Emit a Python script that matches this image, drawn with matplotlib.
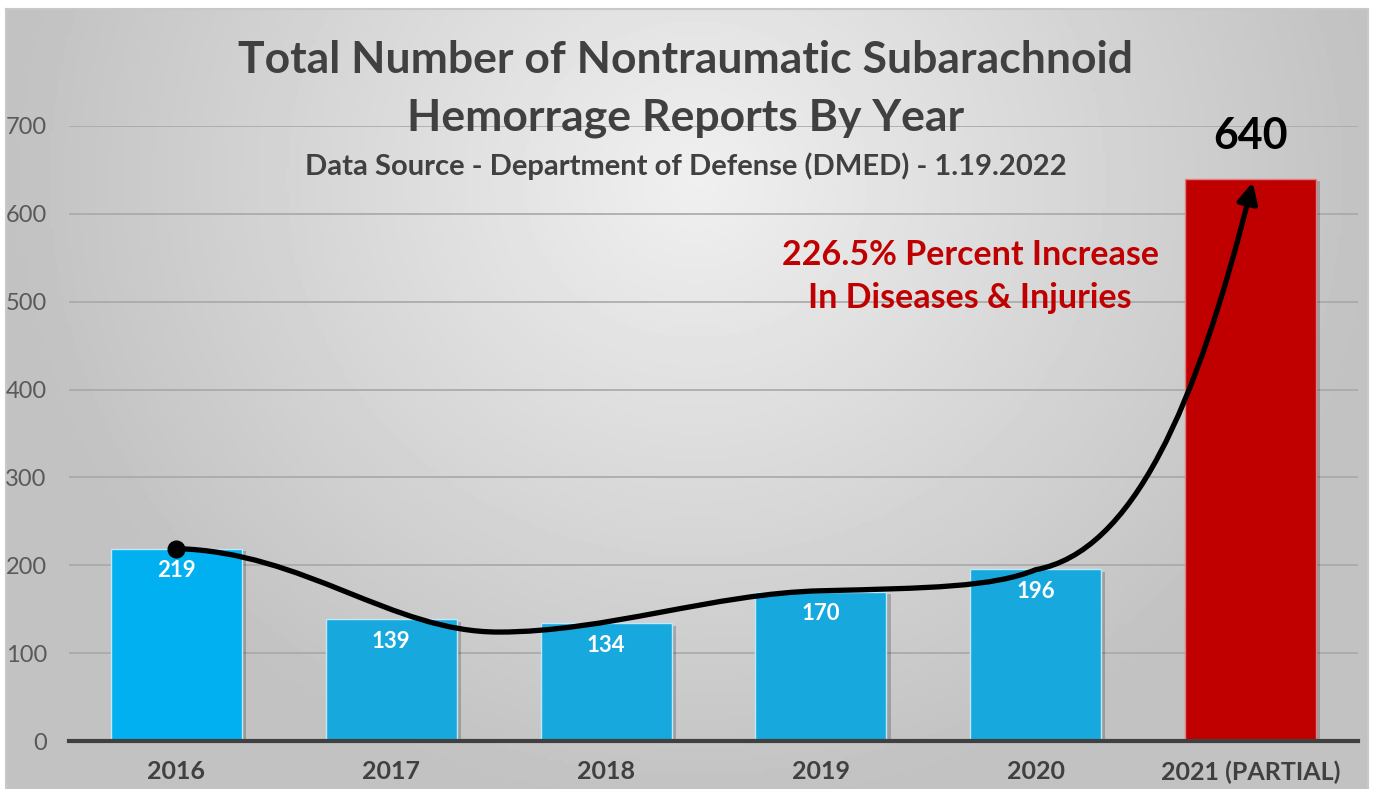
import numpy as np
import matplotlib
matplotlib.use('Agg')
import matplotlib.pyplot as plt
from matplotlib.path import Path
from matplotlib.patches import FancyArrowPatch
import matplotlib.patheffects as pe

plt.rcParams['font.family'] = ['Lato', 'DejaVu Sans']

# Dados do gráfico
anos = ['2016', '2017', '2018', '2019', '2020', '2021 (PARTIAL)']
casos = [219, 139, 134, 170, 196, 640]
cores = ['#00b0f0', '#17a9de', '#17a9de', '#17a9de', '#17a9de', '#c00000']
yticks = [0, 100, 200, 300, 400, 500, 600, 700]

# curva da seta (pontos de controle bezier, coordenadas de dados)
curva_x = [0, 0.6, 1.0, 1.5, 2.0, 2.5, 3.0, 3.5, 3.8, 4.0, 4.45, 4.75, 5.01]
curva_y = [219, 215, 124, 124, 124, 168, 171, 174, 175, 195, 215, 380, 636]

W, H = 1374, 789
fig = plt.figure(figsize=(W / 100, H / 100), dpi=100)
fig.patch.set_facecolor('white')

# fundo com gradiente radial
bg = fig.add_axes([6 / W, 0, (1368 - 6) / W, (H - 9) / H])
gx, gy = np.meshgrid(np.linspace(0, 1362, 400), np.linspace(0, 780, 240))
d = np.sqrt(((gx - 690) / 760) ** 2 + ((gy - 170) / 700) ** 2)
g = np.clip(0.94 - 0.2 * d, 0.76, 0.94)
bg.imshow(g, cmap='gray', vmin=0, vmax=1, aspect='auto', extent=(0, 1, 0, 1), origin='upper')
bg.set_xlim(0, 1)
bg.set_ylim(0, 1)
for s in bg.spines.values():
    s.set_color('#c8c8c8')
    s.set_linewidth(1.5)
bg.spines['bottom'].set_visible(False)
bg.set_xticks([])
bg.set_yticks([])

ax = fig.add_axes([69 / W, 48 / H, (1358 - 69) / W, (741 - 126) / H])
ax.set_facecolor('none')
x = np.arange(len(anos))
barras = ax.bar(x, casos, width=0.61, color=cores, edgecolor=['#bfe8f8'] * 5 + ['#e08080'],
                linewidth=1, zorder=3)
for b in barras:
    b.set_path_effects([pe.SimplePatchShadow(offset=(3, -2), shadow_rgbFace='black', alpha=0.2),
                        pe.Normal()])

ax.set_xlim(-0.5, 5.5)
ax.set_ylim(0, 700)
ax.set_yticks(yticks)
ax.set_yticklabels([str(v) for v in yticks], fontsize=17, color='#595959')
ax.set_xticks(x)
ax.set_xticklabels(anos, fontsize=18, fontweight='bold', color='#404040')
ax.tick_params(axis='y', length=0, pad=16)
ax.tick_params(axis='x', length=0, pad=14)
ax.yaxis.grid(True, color='#a8a8a8', linewidth=1.2, zorder=0)
ax.set_axisbelow(True)
for s in ['top', 'right', 'left']:
    ax.spines[s].set_visible(False)
ax.spines['bottom'].set_color('#404040')
ax.spines['bottom'].set_linewidth(3)
ax.spines['bottom'].set_zorder(5)

for i, v in enumerate(casos[:-1]):
    ax.annotate(str(v), (i, v), xytext=(0, -16), textcoords='offset points',
                ha='center', va='center', color='white', fontsize=16, fontweight='bold', zorder=6)
ax.annotate(str(casos[-1]), (5, casos[-1]), xytext=(0, 31), textcoords='offset points',
            ha='center', va='center', color='black', fontsize=31, fontweight='bold', zorder=6)

# seta curva
codes = [Path.MOVETO] + [Path.CURVE4] * (len(curva_x) - 1)
caminho = Path(np.column_stack([curva_x, curva_y]), codes)
seta = FancyArrowPatch(path=caminho, arrowstyle='-|>', mutation_scale=30,
                       color='black', linewidth=3.8, transform=ax.transData, zorder=7)
ax.add_patch(seta)
ax.plot(curva_x[0], curva_y[0], 'o', color='black', markersize=12, zorder=8, clip_on=False)

# textos
fig.text(686 / W, 1 - 60 / H, 'Total Number of Nontraumatic Subarachnoid', ha='center', va='center',
         fontsize=32, fontweight='bold', color='#404040')
fig.text(686 / W, 1 - 118 / H, 'Hemorrage Reports By Year', ha='center', va='center',
         fontsize=32, fontweight='bold', color='#404040')
fig.text(686 / W, 1 - 166 / H, 'Data Source - Department of Defense (DMED) - 1.19.2022', ha='center',
         va='center', fontsize=21, fontweight='bold', color='#404040')
fig.text(970 / W, 1 - 255 / H, '226.5% Percent Increase', ha='center', va='center',
         fontsize=24.5, fontweight='bold', color='#c00000')
fig.text(970 / W, 1 - 298 / H, 'In Diseases & Injuries', ha='center', va='center',
         fontsize=24.5, fontweight='bold', color='#c00000')

fig.savefig('out.png', dpi=100)
